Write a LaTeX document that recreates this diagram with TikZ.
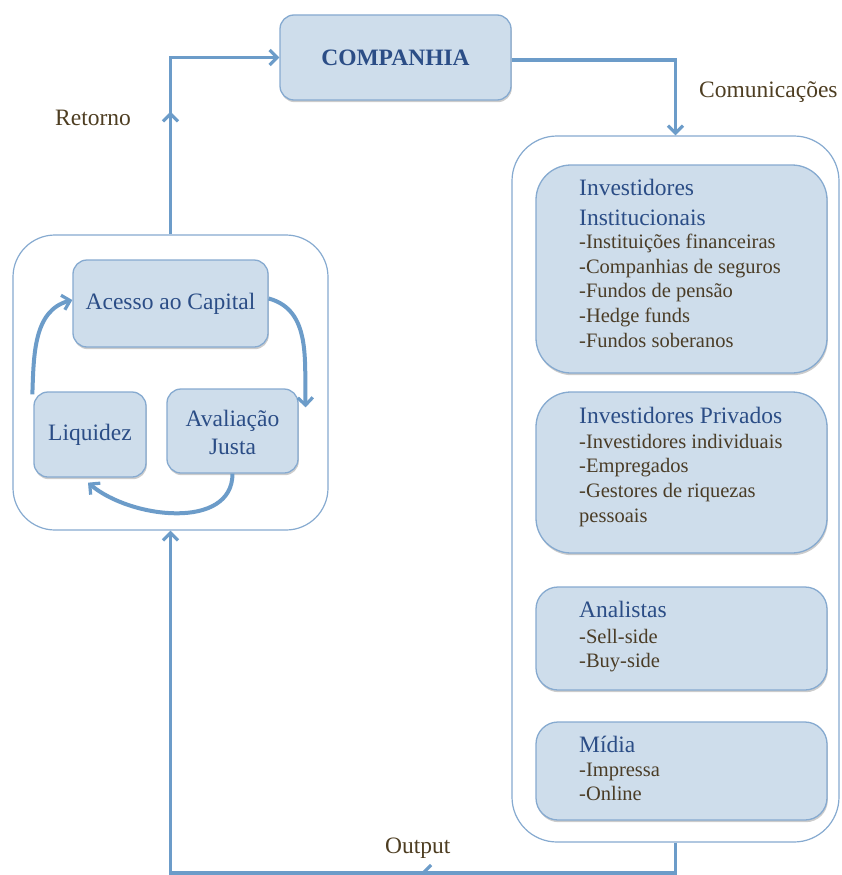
\documentclass[tikz,border=0pt]{standalone}
\usepackage{fontspec}
\setmainfont{Liberation Serif}
\usetikzlibrary{arrows.meta,shadows,decorations.markings}
\definecolor{boxfill}{HTML}{CEDDEB}
\definecolor{boxline}{HTML}{86AAD0}
\definecolor{arrowc}{HTML}{6C9CC9}
\definecolor{titleblue}{HTML}{2B4D86}
\definecolor{itemc}{HTML}{4A3C26}
\definecolor{labelc}{HTML}{4E3E22}
\begin{document}
\begin{tikzpicture}[x=1pt,y=-1pt,
  bluebox/.style={draw=boxline, fill=boxfill, line width=1.3pt, rounded corners=#1, inner sep=0pt,
    drop shadow={shadow xshift=0.8pt, shadow yshift=-2.2pt, opacity=0.2, fill=black}},
  bluebox/.default=14pt,
  container/.style={draw=boxline, fill=white, line width=1.2pt, rounded corners=#1, inner sep=0pt},
  flow/.style={draw, color=arrowc, line width=3.8pt, -{Straight Barb[length=7.5pt,width=15pt,line width=3.2pt]}},
  midarrow/.style={postaction={decorate, decoration={markings, mark=at position #1 with {\arrow{Straight Barb[length=7.5pt,width=15pt,line width=3.2pt]}}}}},
  ttl/.style={anchor=base west, inner sep=0pt, text=titleblue, font=\fontsize{23.5}{28}\selectfont},
  itm/.style={anchor=base west, inner sep=0pt, text=itemc, font=\fontsize{20.5}{24}\selectfont},
  lbl/.style={anchor=base west, inner sep=0pt, text=labelc, font=\fontsize{23.5}{28}\selectfont},
  boxtext/.style={text=titleblue, font=\fontsize{23.5}{28}\selectfont, align=center}
]
\useasboundingbox (0,0) rectangle (841,875);
\fill[white] (0,0) rectangle (841,875);

% containers
\node[container=42pt, minimum width=315pt, minimum height=295pt] (lc) at (170.5,382.5) {};
\node[container=45pt, minimum width=327pt, minimum height=706pt] (rc) at (675.5,489) {};

% company
\node[bluebox, minimum width=231pt, minimum height=85pt, text=titleblue,
      font=\fontsize{23.5}{28}\selectfont\bfseries] (comp) at (395.5,57.5) {COMPANHIA};

% left cycle boxes
\node[bluebox, minimum width=195pt, minimum height=87pt, boxtext] (acc) at (170.5,303.5) {Acesso ao Capital};
\node[bluebox, minimum width=112pt, minimum height=85pt, boxtext] (liq) at (90,434.5) {Liquidez};
\node[bluebox, minimum width=131pt, minimum height=84pt, boxtext] (ava) at (232.5,431) {\rule{0pt}{19pt}Avaliação\\Justa};

% right boxes
\node[bluebox=35pt, minimum width=291pt, minimum height=208pt] (inst) at (681.5,269) {};
\node[bluebox=35pt, minimum width=291pt, minimum height=161pt] (priv) at (681.5,472.5) {};
\node[bluebox=22pt, minimum width=291pt, minimum height=103pt] (anal) at (681.5,638.5) {};
\node[bluebox=22pt, minimum width=291pt, minimum height=98pt] (midia) at (681.5,771) {};

% texts in right boxes
\node[ttl] (instA) at (579,195) {Investidores};
\node[ttl] (instB) at (579,225) {Institucionais};
\node[itm] (inst1) at (579,248) {-Instituições financeiras};
\node[itm] (inst2) at (579,273) {-Companhias de seguros};
\node[itm] (inst3) at (579,297) {-Fundos de pensão};
\node[itm] (inst4) at (579,322) {-Hedge funds};
\node[itm] (inst5) at (579,347) {-Fundos soberanos};

\node[ttl] (privA) at (579,423) {Investidores Privados};
\node[itm] (priv1) at (579,448) {-Investidores individuais};
\node[itm] (priv2) at (579,472) {-Empregados};
\node[itm] (priv3) at (579,497) {-Gestores de riquezas};
\node[itm] (priv4) at (579,522) {pessoais};

\node[ttl] (analA) at (579,617) {Analistas};
\node[itm] (anal1) at (579,643) {-Sell-side};
\node[itm] (anal2) at (579,667) {-Buy-side};

\node[ttl] (midA) at (579,752) {Mídia};
\node[itm] (mid1) at (579,776) {-Impressa};
\node[itm] (mid2) at (579,800) {-Online};

% labels
\node[lbl] (ret) at (55,125) {Retorno};
\node[lbl] (com) at (699,97) {Comunicações};
\node[lbl] (out) at (385,853) {Output};

% main flow
\draw[flow, midarrow=0.43] (lc.north) |- (comp.west);
\draw[flow] ([yshift=-2.5pt]comp.east) -| (rc.north);
\draw[flow, midarrow=0.324] (rc.south) -- ++(0,30) -| (lc.south);

% cycle arrows
\draw[flow, line width=4pt] ([xshift=-1pt,yshift=-3pt]liq.north west) to[out=88, in=195] ([yshift=3.5pt]acc.west);
\draw[flow, line width=4pt] ([yshift=5pt]acc.east) to[out=-15, in=92] ([xshift=7pt,yshift=-19pt]ava.north east);
\draw[flow, line width=4pt] (ava.south) to[out=-90, in=-40] ([xshift=-2pt,yshift=-5pt]liq.south);
\end{tikzpicture}
\end{document}
